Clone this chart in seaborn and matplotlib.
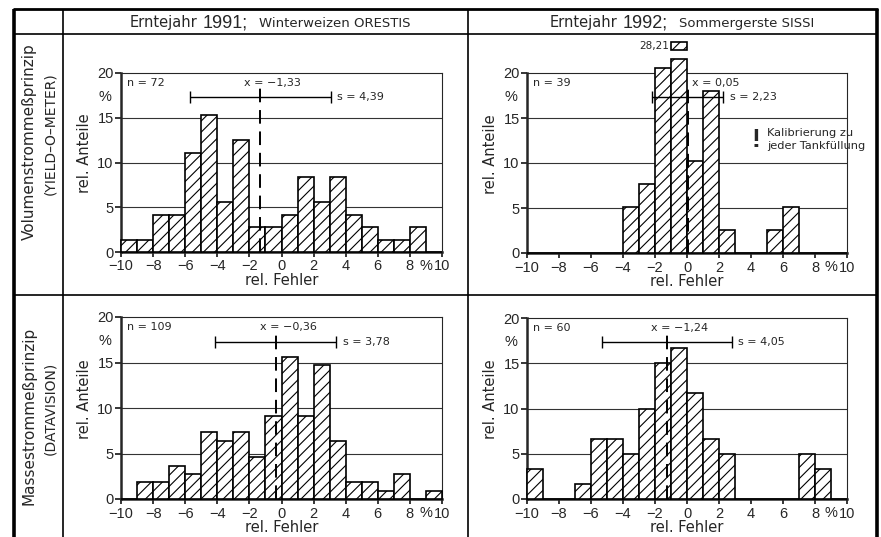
import numpy as np
import pandas as pd
import matplotlib
matplotlib.use("Agg")
import matplotlib.pyplot as plt
import seaborn as sns
from matplotlib.lines import Line2D

# ---------------- data ----------------
edges = list(range(-10, 11))
centers = [e + 0.5 for e in edges[:-1]]

# relative shares (%) per 1-%-class of the relative error, classes -10..-9 ... 9..10
p1991_vol = [1.39, 1.39, 4.17, 4.17, 11.11, 15.28, 5.56, 12.50, 2.78, 2.78,
             4.17, 8.33, 5.56, 8.33, 4.17, 2.78, 1.39, 1.39, 2.78, 0]
p1992_vol = [0, 0, 0, 0, 0, 0, 5.13, 7.69, 20.51, 28.21,
             10.26, 17.95, 2.56, 0, 0, 2.56, 5.13, 0, 0, 0]
p1991_mass = [0, 1.83, 1.83, 3.67, 2.75, 7.34, 6.42, 7.34, 4.59, 9.17,
              15.60, 9.17, 14.68, 6.42, 1.83, 1.83, 0.92, 2.75, 0, 0.92]
p1992_mass = [3.33, 0, 0, 1.67, 6.67, 6.67, 5.00, 10.00, 15.00, 16.67,
              11.67, 6.67, 5.00, 0, 0, 0, 0, 5.00, 3.33, 0]

n_values = [72, 39, 109, 60]
mean_values = [-1.33, 0.05, -0.36, -1.24]
sd_values = [4.39, 2.23, 3.78, 4.05]

col_years = ["1991;", "1992;"]
col_crops = ["Winterweizen ORESTIS", "Sommergerste SISSI"]
row_labels = ["Volumenstrommeßprinzip", "Massestrommeßprinzip"]
row_sublabels = ["(YIELD–O–METER)", "(DATAVISION)"]

xtick_values = [-10, -8, -6, -4, -2, 0, 2, 4, 6, 8, 10]
ytick_values = [0, 5, 10, 15, 20]
note_text = "Kalibrierung zu\njeder Tankfüllung"

# ---------------- style ----------------
sns.set_style("ticks")
plt.rcParams["font.family"] = ["Liberation Sans", "DejaVu Sans"]
plt.rcParams["hatch.linewidth"] = 0.8
TXT = ["DejaVu Sans"]

W, H = 881, 537
fig = plt.figure(figsize=(W / 100, H / 100), dpi=100)
fig.patch.set_facecolor("white")


def fx(px):
    return px / W


def fy(py):
    return 1 - py / H


def de(v):
    return f"{v:.2f}".replace(".", ",").replace("-", "−")


# axes rectangles in pixel coords: (left, right, top(y=20), bottom(y=0))
rects = [(121, 442, 73, 252), (527, 847, 73, 253),
         (121, 442, 317, 499), (527, 847, 318, 499)]
series = [p1991_vol, p1992_vol, p1991_mass, p1992_mass]
label_dx = [-1.0, 0.25, -1.0, -1.0]
break_at = 21.6

axes = []
for i, (l, r, t, b) in enumerate(rects):
    ax = fig.add_axes([fx(l), fy(b), (r - l) / W, (b - t) / H])
    axes.append(ax)
    df = pd.DataFrame({"err": centers, "share": series[i]})
    sns.histplot(data=df, x="err", weights="share", bins=edges, stat="count",
                 ax=ax, color="white", edgecolor="black", linewidth=1.2,
                 hatch="///", alpha=1, zorder=3)
    ax.set_xlim(-10, 10)
    ax.set_ylim(0, 20)
    for p in list(ax.patches):
        p.set_clip_on(False)
        p.set_facecolor("white")
        if p.get_height() > break_at:
            full = p.get_height()
            p.set_height(break_at)
            ax.bar(p.get_x(), 0.8, width=p.get_width(), bottom=22.6, align="edge",
                   color="white", edgecolor="black", linewidth=1.2, hatch="///",
                   clip_on=False, zorder=3)
            ax.text(p.get_x() - 0.1, 23.0, de(full), ha="right", va="center",
                    fontsize=7.5, family=TXT)
    # gridlines
    for yv in ytick_values[1:-1]:
        ax.axhline(yv, color="#333333", lw=0.8, zorder=1)
    # spines
    for s in ["left", "bottom"]:
        ax.spines[s].set_linewidth(1.8)
    for s in ["top", "right"]:
        ax.spines[s].set_linewidth(0.8)
        ax.spines[s].set_visible(True)
    ax.set_xticks(xtick_values, [str(v).replace("-", "−") for v in xtick_values])
    ax.set_yticks(ytick_values, [str(v) for v in ytick_values])
    ax.set_xticks([9], ["%"], minor=True)
    ax.set_yticks([17.5], ["%"], minor=True)
    ax.tick_params(axis="x", which="major", direction="out", length=3.6,
                   width=1.3, labelsize=10.5, pad=1.8)
    ax.tick_params(axis="y", which="major", direction="out", length=4.5,
                   width=1.3, labelsize=10.5, pad=0.8)
    ax.tick_params(axis="x", which="minor", length=0, labelsize=10.5, pad=5.2)
    ax.tick_params(axis="y", which="minor", length=0, labelsize=10.5, pad=7)
    ax.set_xlabel("rel. Fehler", fontsize=10.5, family=TXT)
    ax.set_ylabel("rel. Anteile", fontsize=10.5, family=TXT)
    ax.xaxis.set_label_coords(0.5, -21 / (b - t))
    ax.yaxis.set_label_coords(-29 / (r - l), 0.55)

    # statistics
    m, s_ = mean_values[i], sd_values[i]
    ax.plot([m, m], [0, 18.3], color="black", lw=1.4, dashes=(7, 4), zorder=4)
    ax.errorbar(m, 17.3, xerr=s_, color="black", lw=1.0, capsize=4,
                capthick=1.0, zorder=4)
    ax.text(m + s_ + 0.4, 17.3, f"s = {de(s_)}", ha="left", va="center",
            fontsize=8, family=TXT, zorder=5)
    ax.text(m + label_dx[i], 18.9, f"x = {de(m)}", ha="left", va="center",
            fontsize=8, family=TXT, zorder=5)
    ax.text(-9.65, 18.9, f"n = {n_values[i]}", ha="left", va="center",
            fontsize=8, family=TXT, zorder=5)

# calibration note in panel 2
axes[1].text(4.3, 12.6, "!", ha="center", va="center", fontsize=19,
             fontweight="bold")
axes[1].text(5.0, 12.6, note_text, ha="left", va="center", fontsize=8.2,
             linespacing=1.35, family=TXT)

# ---------------- table frame ----------------
def line(x0, y0, x1, y1, lw):
    fig.add_artist(Line2D([fx(x0), fx(x1)], [fy(y0), fy(y1)], color="black",
                          lw=lw, solid_capstyle="butt"))


line(14, 9, 14, 537, 2.6)
line(877, 9, 877, 537, 2.6)
line(13, 9, 878, 9, 2.0)
line(63, 9, 63, 537, 1.2)
line(468, 9, 468, 537, 1.2)
line(14, 34, 877, 34, 1.2)
line(14, 295, 877, 295, 1.2)

# ---------------- header texts ----------------
fig.canvas.draw()
renderer = fig.canvas.get_renderer()


def header(cx_px, base_px, parts, gaps):
    texts = []
    for s, size, fam in parts:
        texts.append(fig.text(0, fy(base_px), s, fontsize=size, ha="left",
                              va="baseline", family=fam))
    widths = [t.get_window_extent(renderer).width for t in texts]
    total = sum(widths) + sum(gaps)
    x = cx_px - total / 2
    for k, (t, w) in enumerate(zip(texts, widths)):
        t.set_x(fx(x))
        x += w + (gaps[k] if k < len(gaps) else 0)


for k, cx in enumerate([270, 682]):
    header(cx, 27, [("Erntejahr", 10.5, TXT),
                    (col_years[k], 13, ["Liberation Sans"]),
                    (col_crops[k], 9.5, TXT)], [5, 11])

# ---------------- row labels ----------------
row_centers = [142, 416]
for k in range(2):
    fig.text(fx(29), fy(row_centers[k]), row_labels[k], rotation=90,
             ha="center", va="center", fontsize=11, family=TXT)
    fig.text(fx(50), fy(row_centers[k] - 8), row_sublabels[k], rotation=90,
             ha="center", va="center", fontsize=10, family=TXT)

fig.savefig("out.png", dpi=100)
